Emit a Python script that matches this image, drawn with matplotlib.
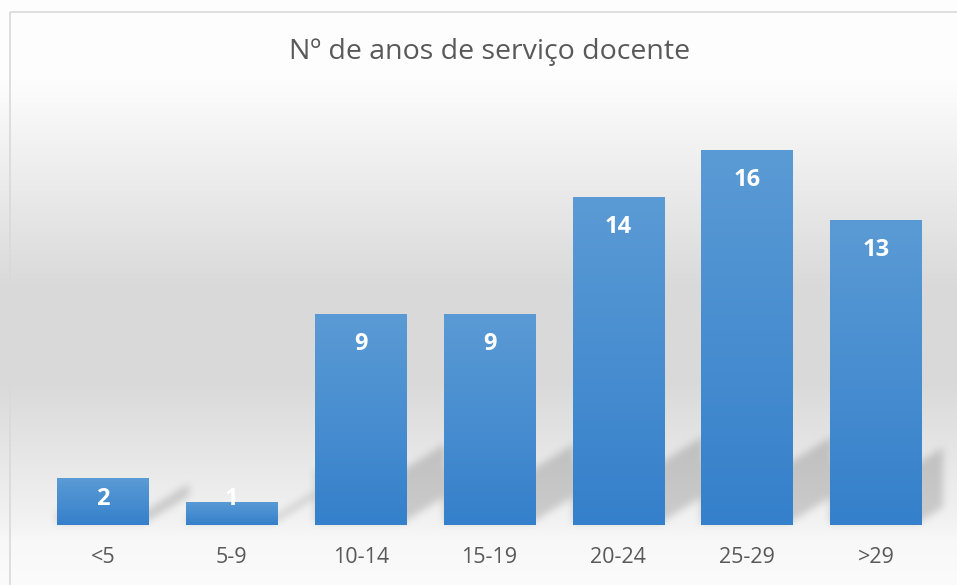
import numpy as np
import matplotlib.pyplot as plt
from matplotlib.colors import LinearSegmentedColormap
from matplotlib.patches import Rectangle

categories = ['<5', '5-9', '10-14', '15-19', '20-24', '25-29', '>29']
counts = [2, 1, 9, 9, 14, 16, 13]
title = 'Nº de anos de serviço docente'

plt.rcParams['font.family'] = ['Open Sans', 'DejaVu Sans']

W, H, DPI = 957, 585, 100
fig = plt.figure(figsize=(W / DPI, H / DPI), dpi=DPI)

# background axes in pixel coords (row 0 at top)
bg_ax = fig.add_axes([0, 0, 1, 1], zorder=0)
bg_ax.set_xlim(0, W)
bg_ax.set_ylim(H, 0)
bg_ax.axis('off')

ax = fig.add_axes([38.5 / W, (H - 525) / H, 902 / W, 422 / H], zorder=1)
ax.patch.set_alpha(0)
x = np.arange(len(categories))
width = 0.71
ax.set_xlim(-0.5, len(categories) - 0.5)
ax.set_ylim(0, 18)

# vertical grey gradient of the chart area
rows = np.arange(H) + 0.5
grey = np.interp(rows, [0, 80, 290, 380, 525, 540, 585],
                 [254, 253, 217, 217, 243, 248, 251]) / 255.0
bg = np.repeat(grey[:, None], W, axis=1)

# perspective shadow behind each bar
cols = np.arange(W) + 0.5
XX, YY = np.meshgrid(cols, H - rows)  # YY measured upwards
mask = np.zeros((H, W))
x0a, y0a = ax.transData.transform((-0.5, 0))
x1a, y1a = ax.transData.transform((len(categories) - 0.5, 18))
for xi, v in zip(x, counts):
    xl, y0 = ax.transData.transform((xi - width / 2, 0))
    xr, yt = ax.transData.transform((xi + width / 2, v))
    hb = yt - y0
    t = min(0.25 * hb, 60)
    d = 40
    lower = y0 + 2 + 0.62 * np.clip(XX - (xr - 4), 0, None)
    m = (XX >= xl) & (XX <= xr + d) & (YY >= lower) & (YY <= lower + t)
    mask = np.maximum(mask, m.astype(float))
mask *= (XX >= x0a) & (XX <= x1a + 2) & (YY >= y0a)

k = np.ones(9) / 9
for _ in range(2):
    mask = np.apply_along_axis(lambda r: np.convolve(r, k, mode='same'), 1, mask)
    mask = np.apply_along_axis(lambda c: np.convolve(c, k, mode='same'), 0, mask)
bg = bg * (1 - 0.16 * mask)

bg_ax.imshow(np.dstack([bg, bg, bg]), extent=[0, W, H, 0], aspect='auto',
             interpolation='bilinear')
bg_ax.add_patch(Rectangle((9.5, 11.5), W + 20, H + 20, fill=False,
                          edgecolor='#d9d9d9', linewidth=1.2))
bg_ax.set_xlim(0, W)
bg_ax.set_ylim(H, 0)

# bars with vertical gradient
bar_cmap = LinearSegmentedColormap.from_list('bar', ['#3580cb', '#5b9bd5'])
bars = ax.bar(x, counts, width, color='none', edgecolor='none')
grad = np.linspace(0, 1, 256).reshape(-1, 1)
for patch, v in zip(bars.patches, counts):
    im = ax.imshow(grad, cmap=bar_cmap, origin='lower', aspect='auto',
                   extent=[patch.get_x(), patch.get_x() + patch.get_width(), 0, v],
                   zorder=2)
    im.set_clip_path(patch)

for xi, v in zip(x, counts):
    ax.text(xi, max(v - 1.28, 1.1), str(v), ha='center', va='center',
            color='white', fontsize=17, fontweight='bold', zorder=3)

ax.set_xlim(-0.5, len(categories) - 0.5)
ax.set_ylim(0, 18)
ax.set_xticks(x)
ax.set_xticklabels(categories, fontsize=15.5, color='#595959')
ax.tick_params(axis='x', length=0, pad=16)
ax.set_yticks([])
for s in ax.spines.values():
    s.set_visible(False)

fig.text(490 / W, 1 - 52 / H, title, ha='center', va='center',
         fontsize=20.5, color='#595959')

fig.savefig('out.png', dpi=DPI)
